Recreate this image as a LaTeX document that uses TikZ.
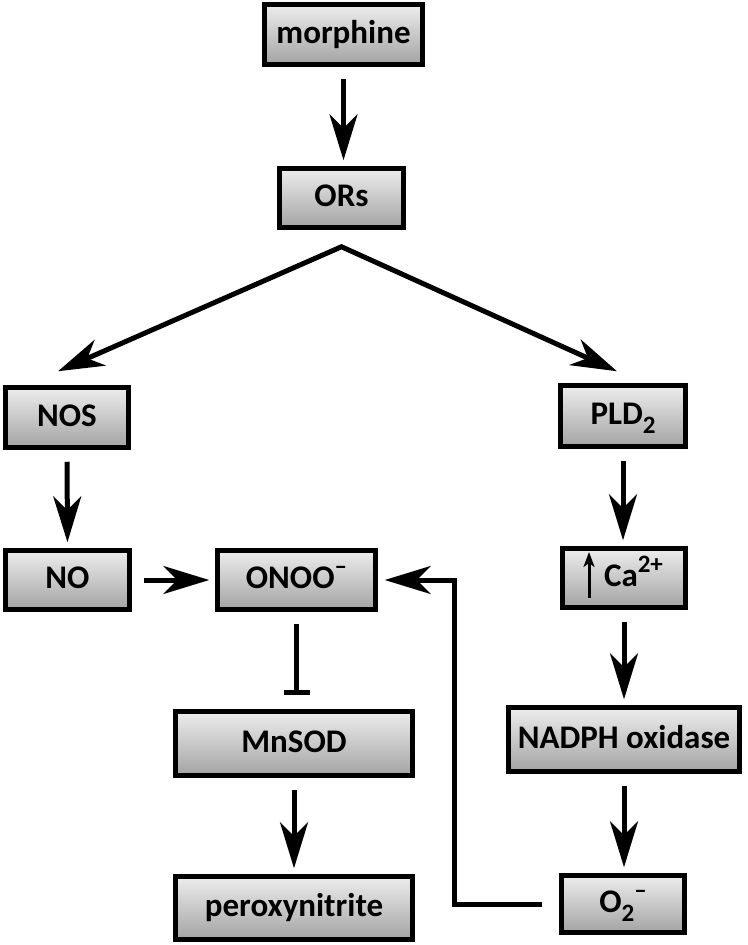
\documentclass[tikz,border=0pt]{standalone}
\usepackage{fontspec}
\setmainfont{Carlito}
\usetikzlibrary{arrows.meta}
\definecolor{boxtop}{gray}{0.93}
\definecolor{boxbot}{gray}{0.64}
\newcommand\mysup[1]{\raisebox{0.42em}{\fontsize{25}{27}\selectfont #1}}
\newcommand\mysub[1]{\raisebox{-0.28em}{\fontsize{25}{27}\selectfont #1}}
\begin{document}
\begin{tikzpicture}[x=1pt,y=1pt,
  box/.style={draw=black, line width=4.5pt, top color=boxtop, bottom color=boxbot,
    font=\fontsize{33}{38}\selectfont\bfseries, text=black, inner sep=0pt,
    text height=23pt, text depth=6pt},
  arr/.style={line width=5pt, -{Stealth[length=46pt,width=28pt,inset=14pt]}, shorten <=12pt, shorten >=6pt},
  inh/.style={line width=5pt, -{Bar[width=26pt]}, shorten <=12pt, shorten >=14pt}]
\useasboundingbox (0,0) rectangle (747,-945);
\node[box,minimum width=158pt,minimum height=60pt] (morph) at (343.5,-34.5) {morphine};
\node[box,minimum width=124pt,minimum height=59pt] (ors) at (341.5,-198) {ORs};
\node[box,minimum width=123pt,minimum height=60pt] (nos) at (67,-417.5) {NOS};
\node[box,minimum width=125pt,minimum height=61pt] (pld) at (623,-416) {PLD\mysub{2}};
\node[box,minimum width=124pt,minimum height=59pt] (no) at (67.5,-580) {NO};
\node[box,minimum width=158pt,minimum height=59pt] (onoo) at (296.5,-580) {ONOO\mysup{–}};
\node[box,minimum width=123pt,minimum height=59pt] (ca) at (624,-578) {\hspace*{19pt}Ca\mysup{2+}};
\node[box,minimum width=237pt,minimum height=64pt] (mnsod) at (294,-743.5) {MnSOD};
\node[box,minimum width=231pt,minimum height=64pt] (nadph) at (624,-739.5) {NADPH oxidase};
\node[box,minimum width=237pt,minimum height=63pt] (perox) at (294,-908) {peroxynitrite};
\node[box,minimum width=123pt,minimum height=57pt] (o2) at (623,-904) {O\mysub{2}\mysup{–}};
% arrows
\draw[arr] (morph.south) -- (morph.south |- ors.north);
\draw[line width=5pt, {Stealth[length=46pt,width=28pt,inset=14pt]}-{Stealth[length=46pt,width=28pt,inset=14pt]}]
  ([shift={(-9pt,14pt)}]nos.north) -- ([yshift=-17pt]ors.south) -- ([shift={(-6pt,12pt)}]pld.north);
\draw[arr] (nos.south) -- (no.north);
\draw[arr] (no.east) -- (onoo.west);
\draw[inh] (onoo.south) -- (onoo.south |- mnsod.north);
\draw[arr] (mnsod.south) -- (perox.north);
\draw[arr] (pld.south) -- (pld.south |- ca.north);
\draw[arr] (ca.south) -- (ca.south |- nadph.north);
\draw[arr] (nadph.south) -- (nadph.south |- o2.north);
\draw[arr, shorten <=17pt, shorten >=7pt] (o2.west) -| ([xshift=76.5pt]onoo.east) -- (onoo.east);
\draw[line width=3pt, -{Stealth[length=15pt,width=11pt,inset=4pt]}]
  ([shift={(-35pt,-20pt)}]ca.center) -- ([shift={(-35pt,26pt)}]ca.center);
\end{tikzpicture}
\end{document}
